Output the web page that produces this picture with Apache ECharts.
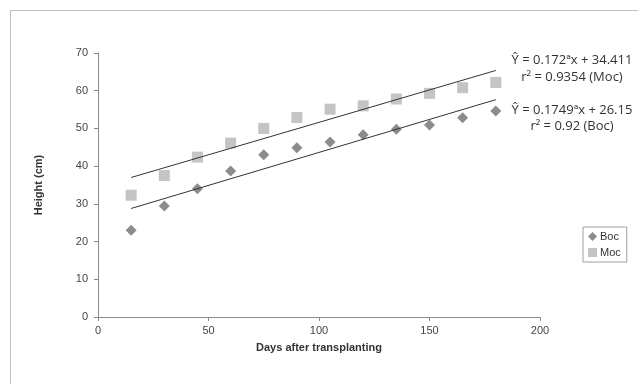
<!DOCTYPE html>
<html>
<head>
<meta charset="utf-8">
<script src="https://cdn.jsdelivr.net/npm/echarts@6/dist/echarts.min.js"></script>
<style>
html, body { margin: 0; padding: 0; background: #fff; }
#main { width: 638px; height: 384px; }
</style>
</head>
<body>
<div id="main"></div>
<script>
// days after transplanting
var days = [15, 30, 45, 60, 75, 90, 105, 120, 135, 150, 165, 180];
// height (cm)
var boc = [23.0, 29.4, 34.0, 38.7, 43.0, 44.9, 46.4, 48.3, 49.8, 50.9, 52.8, 54.6];
var moc = [32.3, 37.5, 42.4, 46.1, 50.0, 52.9, 55.1, 56.0, 57.8, 59.3, 60.8, 62.2];
// trendline coefficients shown on the chart
var mocFit = { slope: 0.172, intercept: 34.411 };
var bocFit = { slope: 0.1749, intercept: 26.15 };
var yTicks = [0, 10, 20, 30, 40, 50, 60, 70];
var xTicks = [0, 50, 100, 150, 200];

function pairs(xs, ys) {
    return xs.map(function (x, i) { return [x, ys[i]]; });
}
function fitLine(fit) {
    var x0 = days[0], x1 = days[days.length - 1];
    return [[x0, fit.slope * x0 + fit.intercept], [x1, fit.slope * x1 + fit.intercept]];
}

var font = 'Liberation Sans, Arial, sans-serif';
var noteFont = '13px "Open Sans", sans-serif';
function note(text, y) {
    return { type: 'text', x: 572, y: y, silent: true,
        style: { text: text, font: noteFont, fill: '#333', align: 'center', verticalAlign: 'middle' } };
}

var myChart = echarts.init(document.getElementById('main'));
var option = {
    animation: false,
    grid: { left: 98, right: 98, top: 53, bottom: 67 },
    xAxis: {
        type: 'value',
        min: xTicks[0], max: xTicks[xTicks.length - 1], interval: 50,
        name: 'Days after transplanting',
        nameLocation: 'middle',
        nameGap: 25,
        nameTextStyle: { fontFamily: font, fontSize: 11, fontWeight: 'bold', color: '#333' },
        axisLine: { lineStyle: { color: '#8a8a8a' } },
        axisTick: { length: 4, lineStyle: { color: '#8a8a8a' } },
        axisLabel: { fontFamily: font, fontSize: 11, color: '#444', margin: 8 },
        splitLine: { show: false }
    },
    yAxis: {
        type: 'value',
        min: yTicks[0], max: yTicks[yTicks.length - 1], interval: 10,
        name: 'Height (cm)',
        nameLocation: 'middle',
        nameGap: 54,
        nameTextStyle: { fontFamily: font, fontSize: 11, fontWeight: 'bold', color: '#333' },
        axisLine: { show: true, lineStyle: { color: '#8a8a8a' } },
        axisTick: { show: true, length: 4, lineStyle: { color: '#8a8a8a' } },
        axisLabel: { fontFamily: font, fontSize: 11, color: '#444', margin: 10 },
        splitLine: { show: false }
    },
    legend: {
        data: [{ name: 'Boc', icon: 'diamond' }, { name: 'Moc', icon: 'rect' }],
        orient: 'vertical',
        left: 583, top: 227,
        itemWidth: 9, itemHeight: 9, itemGap: 5,
        padding: [4, 6, 4, 5],
        borderColor: '#a0a0a0', borderWidth: 1,
        textStyle: { fontFamily: font, fontSize: 11, color: '#333', padding: [0, 0, 0, -2] }
    },
    series: [
        {
            name: 'Moc fit', type: 'line', data: fitLine(mocFit),
            symbol: 'none', silent: true,
            lineStyle: { color: '#333', width: 1 }
        },
        {
            name: 'Boc fit', type: 'line', data: fitLine(bocFit),
            symbol: 'none', silent: true,
            lineStyle: { color: '#333', width: 1 }
        },
        {
            name: 'Boc', type: 'scatter', data: pairs(days, boc),
            symbol: 'diamond', symbolSize: 11,
            itemStyle: { color: '#8c8c8c', opacity: 1 }
        },
        {
            name: 'Moc', type: 'scatter', data: pairs(days, moc),
            symbol: 'rect', symbolSize: 11,
            itemStyle: { color: '#c4c4c4', opacity: 1 }
        }
    ],
    graphic: [
        {
            type: 'rect', silent: true,
            shape: { x: 10.5, y: 10.5, width: 700, height: 500 },
            style: { fill: 'none', stroke: '#c0c0c0', lineWidth: 1 }
        },
        note('Ŷ = 0.172ªx + 34.411', 60),
        note('r² = 0.9354 (Moc)', 77),
        note('Ŷ = 0.1749ªx + 26.15', 110),
        note('r² = 0.92 (Boc)', 126)
    ]
};
myChart.setOption(option);
</script>
</body>
</html>
